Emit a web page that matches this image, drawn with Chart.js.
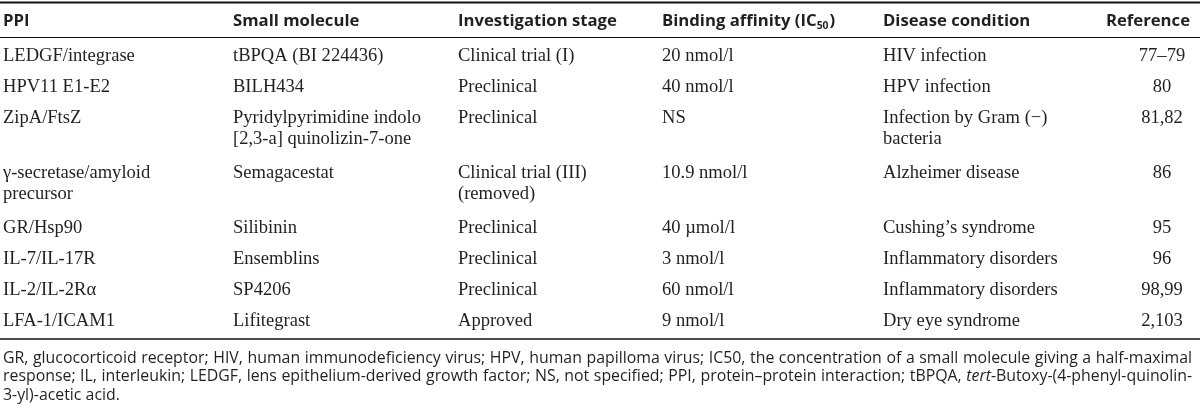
<!DOCTYPE html>
<html lang="en">
<head>
<meta charset="UTF-8">
<title>PPI small molecule table</title>
<script src="https://cdn.jsdelivr.net/npm/chart.js@4.4.1/dist/chart.umd.min.js"></script>
<style>
  html, body { margin: 0; padding: 0; background: #fff; }
  #tbl { display: block; }
</style>
</head>
<body>
<canvas id="tbl" width="1200" height="412"></canvas>
<script>
// table content
var headers = ["PPI", "Small molecule", "Investigation stage", "Binding affinity (IC", "Disease condition", "Reference"];
var ppi = ["LEDGF/integrase", "HPV11 E1-E2", "ZipA/FtsZ", ["γ-secretase/amyloid", "precursor"], "GR/Hsp90", "IL-7/IL-17R", "IL-2/IL-2Rα", "LFA-1/ICAM1"];
var molecule = ["tBPQA (BI 224436)", "BILH434", ["Pyridylpyrimidine indolo", "[2,3-a] quinolizin-7-one"], "Semagacestat", "Silibinin", "Ensemblins", "SP4206", "Lifitegrast"];
var stage = ["Clinical trial (I)", "Preclinical", "Preclinical", ["Clinical trial (III)", "(removed)"], "Preclinical", "Preclinical", "Preclinical", "Approved"];
var affinity = ["20 nmol/l", "40 nmol/l", "NS", "10.9 nmol/l", "40 µmol/l", "3 nmol/l", "60 nmol/l", "9 nmol/l"];
var disease = ["HIV infection", "HPV infection", ["Infection by Gram (−)", "bacteria"], "Alzheimer disease", "Cushing’s syndrome", "Inflammatory disorders", "Inflammatory disorders", "Dry eye syndrome"];
var refs = ["77–79", "80", "81,82", "86", "95", "96", "98,99", "2,103"];
// *...* marks italic words
var footnotes = [
    "GR, glucocorticoid receptor; HIV, human immunodeficiency virus; HPV, human papilloma virus; IC50, the concentration of a small molecule giving a half-maximal",
    "response; IL, interleukin; LEDGF, lens epithelium-derived growth factor; NS, not specified; PPI, protein–protein interaction; tBPQA, *tert*-Butoxy-(4-phenyl-quinolin-",
    "3-yl)-acetic acid."
];

var columns = [ppi, molecule, stage, affinity, disease, refs];

// layout, in scale units (the scales map 1:1 onto the canvas)
var colX = [3, 233, 458, 662, 883, 1162];
var colAlign = ["left", "left", "left", "left", "left", "center"];
var headerY = 21, firstRowY = 56, lineGap = 21, rowGap = 31, wrapRowGap = 34;
var topRule = 2.5, headRule = 37.5;

function lines(v) { return Array.isArray(v) ? v : [v]; }

var rowY = [];
var y = firstRowY;
for (var i = 0; i < ppi.length; i++) {
    rowY.push(y);
    var n = 1;
    columns.forEach(function (col) { n = Math.max(n, lines(col[i]).length); });
    y += (n - 1) * lineGap + (n > 1 ? wrapRowGap : rowGap);
}
var bottomRule = y - rowGap + 18;
var footY = bottomRule + 19, footGap = 18.5;

var ink = "#231f20";
var serif = '"Liberation Serif", "DejaVu Serif", serif';
var sans = '"Open Sans", "Noto Sans", sans-serif';

// pick font sizes so a sample string has the width it has in the picture
var mctx = document.createElement("canvas").getContext("2d");
function fitSize(prefix, text, target) {
    mctx.font = prefix + "100px " + sans;
    if (prefix === "serif ") mctx.font = "100px " + serif;
    return 100 * target / mctx.measureText(text).width;
}
var bodySize = fitSize("serif ", "LEDGF/integrase", 132);
var headSize = fitSize("bold ", "Investigation stage", 159);
var footSize = fitSize("", footnotes[0].replace(/\*/g, ""), 1180);

var datasets = columns.map(function (col, c) {
    return {
        label: headers[c],
        data: col.map(function (v, i) { return { x: colX[c], y: rowY[i] }; }),
        pointRadius: 0,
        showLine: false
    };
});

var tablePlugin = {
    id: "tableText",
    afterDatasetsDraw: function (chart) {
        var ctx = chart.ctx;
        var xs = chart.scales.x, ys = chart.scales.y;
        var gap = ys.getPixelForValue(lineGap) - ys.getPixelForValue(0);
        ctx.save();
        ctx.fillStyle = ink;
        ctx.strokeStyle = "#111";

        // horizontal rules
        function rule(v, w) {
            var py = ys.getPixelForValue(v);
            ctx.lineWidth = w;
            ctx.beginPath();
            ctx.moveTo(xs.getPixelForValue(0), py);
            ctx.lineTo(xs.getPixelForValue(1200), py);
            ctx.stroke();
        }
        rule(topRule, 2);
        rule(headRule, 1);
        rule(bottomRule, 1.6);

        // header row
        ctx.textBaseline = "middle";
        var hy = ys.getPixelForValue(headerY);
        var hfont = "bold " + headSize + "px " + sans;
        headers.forEach(function (h, c) {
            ctx.font = hfont;
            var hx = xs.getPixelForValue(colX[c]);
            if (c === 5) {
                ctx.textAlign = "right";
                ctx.fillText(h, xs.getPixelForValue(1190), hy);
                return;
            }
            ctx.textAlign = "left";
            ctx.fillText(h, hx, hy);
            if (c === 3) {
                // IC50 subscript
                var w = ctx.measureText(h).width;
                ctx.font = "bold " + (headSize * 0.62) + "px " + sans;
                ctx.fillText("50", hx + w, hy + headSize * 0.28);
                var w2 = ctx.measureText("50").width;
                ctx.font = hfont;
                ctx.fillText(")", hx + w + w2 + 1, hy);
            }
        });

        // body cells, one dataset per column
        ctx.font = bodySize + "px " + serif;
        chart.data.datasets.forEach(function (ds, c) {
            var meta = chart.getDatasetMeta(c);
            ctx.textAlign = colAlign[c];
            meta.data.forEach(function (pt, i) {
                lines(columns[c][i]).forEach(function (t, k) {
                    ctx.fillText(t, pt.x, pt.y + k * gap);
                });
            });
        });

        // footnotes, justified except the last line
        var left = xs.getPixelForValue(3), right = xs.getPixelForValue(1192);
        function fontFor(it) { return (it ? "italic " : "") + footSize + "px " + sans; }
        ctx.textAlign = "left";
        footnotes.forEach(function (line, li) {
            var fy = ys.getPixelForValue(footY + li * footGap);
            var words = line.split(" ").map(function (w) {
                return w.split("*").map(function (p, j) { return { t: p, it: j % 2 === 1 }; })
                    .filter(function (p) { return p.t; });
            });
            var widths = words.map(function (w) {
                return w.reduce(function (s, p) { ctx.font = fontFor(p.it); return s + ctx.measureText(p.t).width; }, 0);
            });
            ctx.font = fontFor(false);
            var space = ctx.measureText(" ").width;
            var total = widths.reduce(function (a, b) { return a + b; }, 0);
            if (li < footnotes.length - 1) space = (right - left - total) / (words.length - 1);
            var x = left;
            words.forEach(function (w) {
                w.forEach(function (p) {
                    ctx.font = fontFor(p.it);
                    ctx.fillText(p.t, x, fy);
                    x += ctx.measureText(p.t).width;
                });
                x += space;
            });
        });
        ctx.restore();
    }
};

new Chart(document.getElementById("tbl"), {
    type: "scatter",
    data: { datasets: datasets },
    options: {
        responsive: false,
        animation: false,
        layout: { padding: 0 },
        scales: {
            x: { type: "linear", min: 0, max: 1200, display: false },
            y: { type: "linear", min: 0, max: 412, reverse: true, display: false }
        },
        plugins: { legend: { display: false }, tooltip: { enabled: false } }
    },
    plugins: [tablePlugin]
});
</script>
</body>
</html>
